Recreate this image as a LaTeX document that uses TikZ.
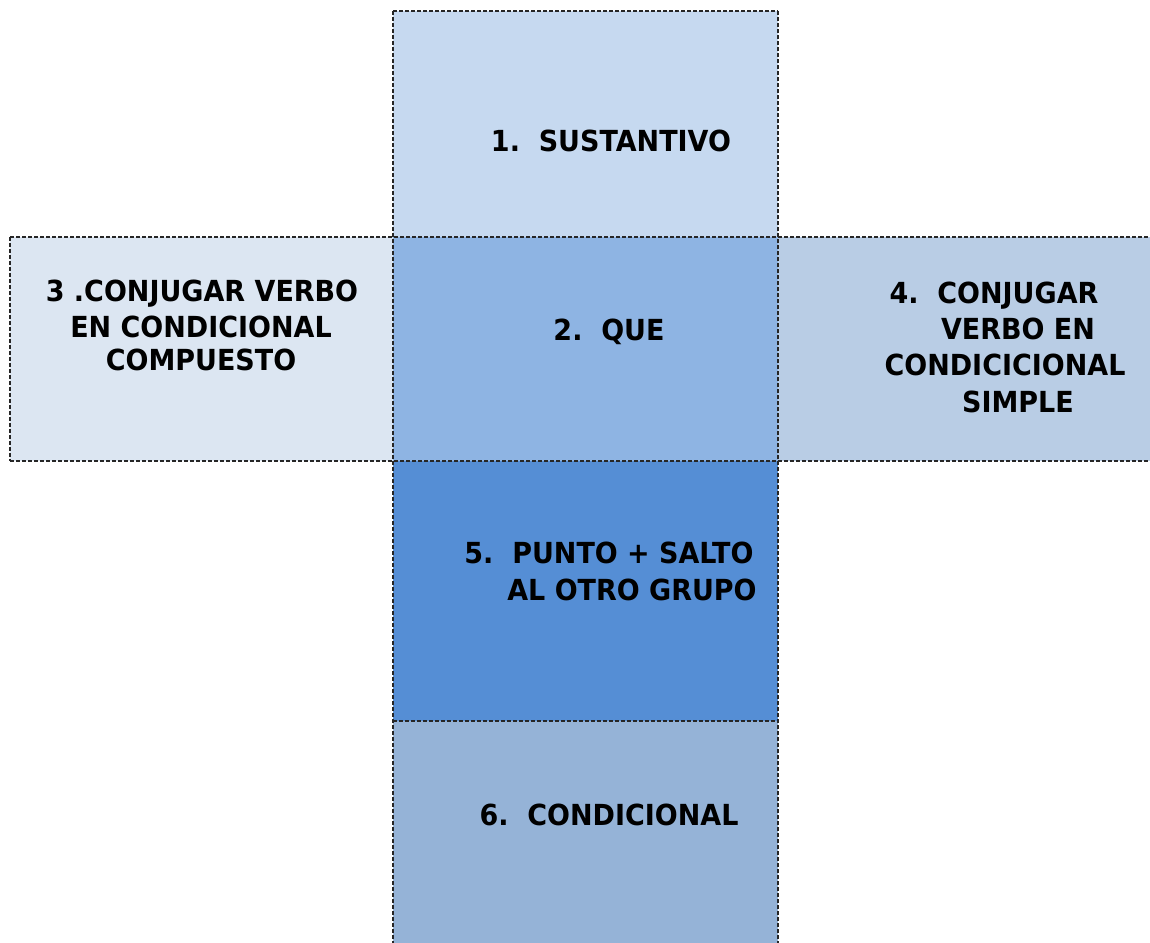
\documentclass[tikz,border=0pt]{standalone}
\usepackage{fontspec}
\setmainfont{DejaVu Sans}[FakeStretch=0.93]
\definecolor{cA}{HTML}{C6D9F0}
\definecolor{cB}{HTML}{8EB4E3}
\definecolor{cC}{HTML}{DCE6F2}
\definecolor{cD}{HTML}{B9CDE5}
\definecolor{cE}{HTML}{558ED5}
\definecolor{cF}{HTML}{95B3D7}
\tikzset{
  face/.style={draw=black!85, line width=1.2pt, dash pattern=on 4pt off 2pt},
  lbl/.style={anchor=base, inner sep=0pt, font=\fontsize{29}{36}\selectfont\bfseries}
}
\begin{document}
\begin{tikzpicture}[x=1pt,y=-1pt]
\useasboundingbox (0,0) rectangle (1150,942);
\clip (0,0) rectangle (1150,942);
\fill[cA] (393,11) rectangle (778,237);
\fill[cB] (393,237) rectangle (778,461);
\fill[cC] (10,237) rectangle (393,461);
\fill[cD] (778,237) rectangle (1160,461);
\fill[cE] (393,461) rectangle (778,721);
\fill[cF] (393,721) rectangle (778,960);
\draw[face] (393,11) -- (778,11);
\draw[face] (10,237) -- (1160,237);
\draw[face] (10,461) -- (1160,461);
\draw[face] (393,721) -- (778,721);
\draw[face] (10,237) -- (10,461);
\draw[face] (393,11) -- (393,960);
\draw[face] (778,11) -- (778,960);
\node[lbl] (t1) at (611,151.5) {1.\ \ SUSTANTIVO};
\node[lbl] (t2) at (609,340.5) {2.\ \ QUE};
\node[lbl] (t3a) at (202,301.5) {3 .CONJUGAR VERBO};
\node[lbl] (t3b) at (201,337.5) {EN CONDICIONAL};
\node[lbl] (t3c) at (201,370.5) {COMPUESTO};
\node[lbl] (t4a) at (994,303) {4.\ \ CONJUGAR};
\node[lbl] (t4b) at (1018,339) {VERBO EN};
\node[lbl] (t4c) at (1005,375) {CONDICICIONAL};
\node[lbl] (t4d) at (1018,412) {SIMPLE};
\node[lbl] (t5a) at (609,563) {5.\ \ PUNTO + SALTO};
\node[lbl] (t5b) at (632,600) {AL OTRO GRUPO};
\node[lbl] (t6) at (609,825.5) {6.\ \ CONDICIONAL};
\end{tikzpicture}
\end{document}
